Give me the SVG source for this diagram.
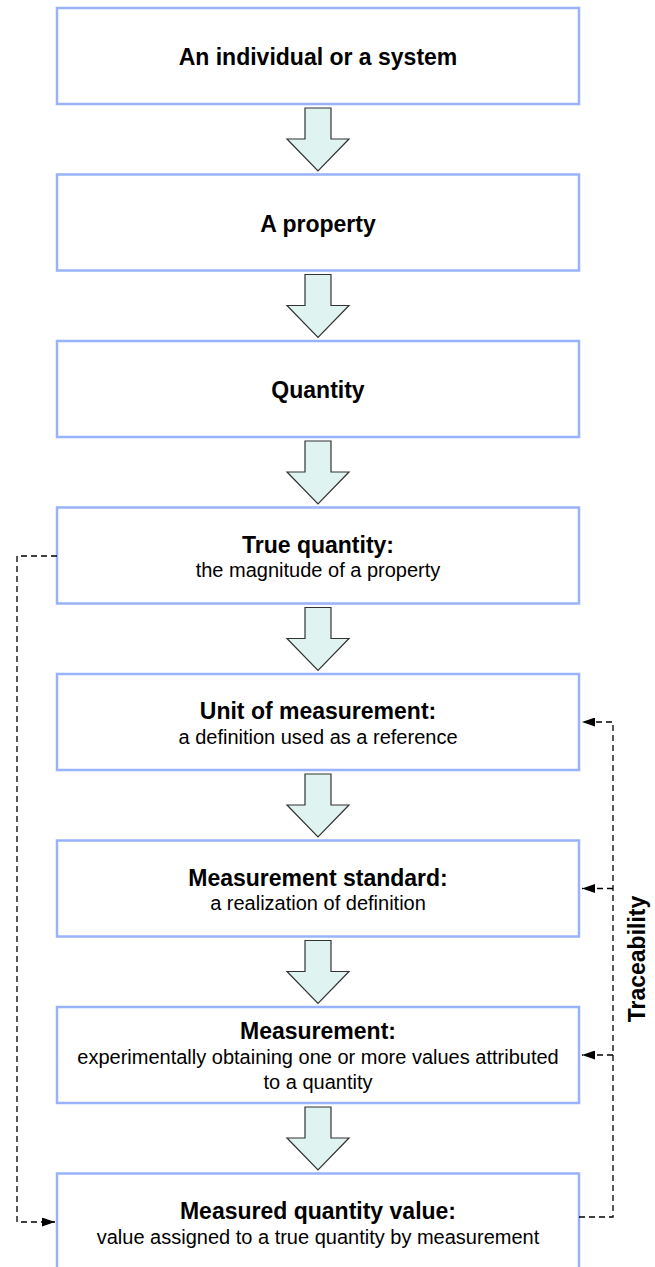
<svg xmlns="http://www.w3.org/2000/svg" width="655" height="1267" viewBox="0 0 655 1267">
<style>
.box{fill:#fff;stroke:#98b3fb;stroke-width:2.5}
.t{font-family:"Liberation Sans",Arial,sans-serif;font-weight:bold;font-size:23px;fill:#000;text-anchor:middle}
.s{font-family:"Liberation Sans",Arial,sans-serif;font-size:20px;fill:#000;text-anchor:middle}
.blk{fill:#dff3f1;stroke:#333;stroke-width:1.2;stroke-linejoin:miter}
.dash{fill:none;stroke:#000;stroke-width:1.3;stroke-dasharray:6 4}
</style>
<defs>
<marker id="ah" markerUnits="userSpaceOnUse" markerWidth="13" markerHeight="9" refX="13" refY="4.5" orient="auto">
<path d="M0,0 L13,4.5 L0,9 z" fill="#000" stroke="none"/>
</marker>
<polygon id="barrow" class="blk" points="305,4 331,4 331,35 349,35 318,67 287,35 305,35"/>
</defs>
<g id="n1"><rect class="box" x="57" y="8" width="522" height="96"/><text class="t" x="318" y="65">An individual or a system</text></g>
<g id="n2"><rect class="box" x="57" y="174.5" width="522" height="96"/><text class="t" x="318" y="231.5">A property</text></g>
<g id="n3"><rect class="box" x="57" y="341" width="522" height="96"/><text class="t" x="318" y="398">Quantity</text></g>
<g id="n4"><rect class="box" x="57" y="507.5" width="522" height="96"/><text class="t" x="318" y="552.5">True quantity:</text><text class="s" x="318" y="577">the magnitude of a property</text></g>
<g id="n5"><rect class="box" x="57" y="674" width="522" height="96"/><text class="t" x="318" y="719">Unit of measurement:</text><text class="s" x="318" y="743.5">a definition used as a reference</text></g>
<g id="n6"><rect class="box" x="57" y="840.5" width="522" height="96"/><text class="t" x="318" y="885.5">Measurement standard:</text><text class="s" x="318" y="910">a realization of definition</text></g>
<g id="n7"><rect class="box" x="57" y="1007" width="522" height="96"/><text class="t" x="318" y="1039">Measurement:</text><text class="s" x="318" y="1064">experimentally obtaining one or more values attributed</text><text class="s" x="318" y="1089">to a quantity</text></g>
<g id="n8"><rect class="box" x="57" y="1173.5" width="522" height="96"/><text class="t" x="318" y="1218.5">Measured quantity value:</text><text class="s" x="318" y="1244">value assigned to a true quantity by measurement</text></g>
<g id="connectors">
<use href="#barrow" y="104"/>
<use href="#barrow" y="270.5"/>
<use href="#barrow" y="437"/>
<use href="#barrow" y="603.5"/>
<use href="#barrow" y="770"/>
<use href="#barrow" y="936.5"/>
<use href="#barrow" y="1103"/>
<path class="dash" d="M57,556 H17 V1222 H55" marker-end="url(#ah)"/>
<path class="dash" d="M579,1217 H613 V722 H582" marker-end="url(#ah)"/>
<path class="dash" d="M613,888.5 H582" marker-end="url(#ah)"/>
<path class="dash" d="M613,1055 H582" marker-end="url(#ah)"/>
<text class="t" transform="translate(645,959) rotate(-90)">Traceability</text>
</g>
</svg>
